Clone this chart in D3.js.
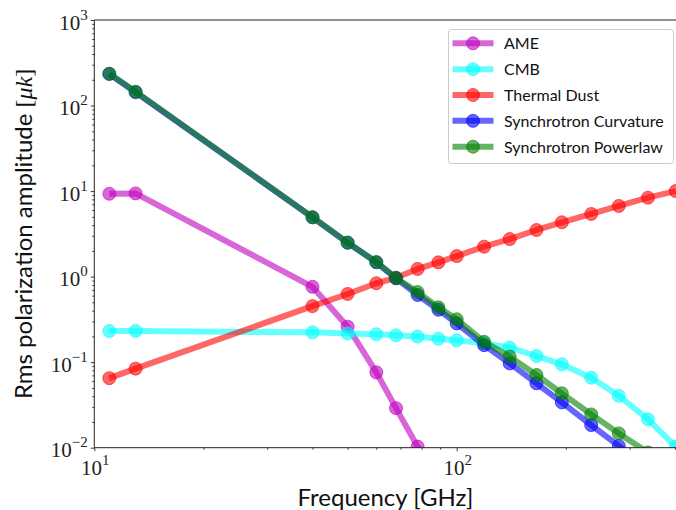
<!DOCTYPE html>
<html>
<head>
<meta charset="utf-8">
<script src="https://cdn.jsdelivr.net/npm/d3@7"></script>
<style>
  html, body { margin: 0; padding: 0; background: #fff; }
  svg { display: block; }
</style>
</head>
<body>
<svg id="chart" width="676" height="510"></svg>
<script>
// ---- data ----
const frequencies = [11, 13, 40, 50, 60, 68, 78, 89, 100, 119, 140, 166, 195, 235, 280, 337, 402];
const ame          = [9.3, 9.4, 0.76, 0.26, 0.076, 0.029, 0.0103, 0.0034, null, null, null, null, null, null, null, null, null];
const cmb          = [0.231, 0.232, 0.223, 0.217, 0.212, 0.206, 0.199, 0.188, 0.180, 0.166, 0.148, 0.118, 0.0944, 0.0658, 0.0405, 0.0215, 0.0103];
const thermalDust  = [0.065, 0.084, 0.452, 0.627, 0.836, 0.97, 1.23, 1.47, 1.74, 2.24, 2.75, 3.51, 4.32, 5.40, 6.70, 8.38, 10.0];
const syncCurv     = [234, 143, 4.93, 2.49, 1.47, 0.955, 0.61, 0.41, 0.284, 0.158, 0.0968, 0.0566, 0.0339, 0.0184, 0.0105, 0.0057, 0.0032];
const syncPower    = [236, 145, 4.95, 2.50, 1.48, 0.965, 0.66, 0.437, 0.317, 0.173, 0.116, 0.0708, 0.0432, 0.0245, 0.0147, 0.0088, 0.0052];
const seriesNames  = ["AME", "CMB", "Thermal Dust", "Synchrotron Curvature", "Synchrotron Powerlaw"];
const seriesColors = ["#bf00bf", "#00ffff", "#ff0000", "#0000ff", "#008000"];
const seriesValues = [ame, cmb, thermalDust, syncCurv, syncPower];
const xMajorTicks = [10, 100];
const yMajorTicks = [1e-2, 1e-1, 1e0, 1e1, 1e2, 1e3];
const xAxisLabel = "Frequency [GHz]";
const yAxisLabel = "Rms polarization amplitude ";

// ---- layout ----
const svg = d3.select("#chart");
const L = 94.3, T = 20, B = 447.7, R = 676.5;
const x = d3.scaleLog().domain([10, 404]).range([L, R]);
const y = d3.scaleLog().domain([1e-2, 1e3]).range([B, T]);
const ALPHA = 0.6;
const serif = "'Liberation Serif', 'DejaVu Serif', serif";
const sans = "Lato, 'Noto Sans', sans-serif";

svg.append("defs").append("clipPath").attr("id", "plotclip")
  .append("rect").attr("x", L).attr("y", T).attr("width", R - L).attr("height", B - T);

// ---- series ----
const plot = svg.append("g").attr("clip-path", "url(#plotclip)");
const line = d3.line().defined(d => d.v != null).x(d => x(d.f)).y(d => y(d.v));
seriesValues.forEach((vals, i) => {
  const pts = frequencies.map((f, j) => ({ f, v: vals[j] }));
  const g = plot.append("g");
  g.append("path").datum(pts).attr("d", line)
    .attr("fill", "none").attr("stroke", seriesColors[i]).attr("stroke-opacity", ALPHA)
    .attr("stroke-width", 6).attr("stroke-linejoin", "round");
  g.selectAll("circle").data(pts.filter(d => d.v != null)).enter().append("circle")
    .attr("cx", d => x(d.f)).attr("cy", d => y(d.v)).attr("r", 6.5)
    .attr("fill", seriesColors[i]).attr("fill-opacity", ALPHA)
    .attr("stroke", seriesColors[i]).attr("stroke-opacity", ALPHA).attr("stroke-width", 1);
});

// ---- axes ----
const axisColor = "#222";
function minorTicks(scale) {
  const [a, b] = scale.domain();
  const out = [];
  for (let e = Math.floor(Math.log10(a)); e <= Math.ceil(Math.log10(b)); e++) {
    for (let m = 2; m <= 9; m++) {
      const v = m * Math.pow(10, e);
      if (v >= a && v <= b) out.push(v);
    }
  }
  return out;
}
const xAxisMajor = d3.axisBottom(x).tickValues(xMajorTicks).tickSize(3.5).tickFormat("");
const xAxisMinor = d3.axisBottom(x).tickValues(minorTicks(x)).tickSize(2).tickFormat("");
const yAxisMajor = d3.axisLeft(y).tickValues(yMajorTicks).tickSize(3.5).tickFormat("");
const yAxisMinor = d3.axisLeft(y).tickValues(minorTicks(y)).tickSize(2).tickFormat("");
[svg.append("g").attr("transform", `translate(0,${B})`).call(xAxisMinor),
 svg.append("g").attr("transform", `translate(0,${B})`).call(xAxisMajor),
 svg.append("g").attr("transform", `translate(${L},0)`).call(yAxisMinor),
 svg.append("g").attr("transform", `translate(${L},0)`).call(yAxisMajor)].forEach(g => {
  g.select(".domain").remove();
  g.selectAll("line").attr("stroke", axisColor).attr("stroke-width", 0.9);
});
// spines
svg.append("line").attr("x1", L).attr("x2", L).attr("y1", T).attr("y2", B).attr("stroke", axisColor).attr("stroke-width", 1);
svg.append("line").attr("x1", L).attr("x2", R).attr("y1", B).attr("y2", B).attr("stroke", axisColor).attr("stroke-width", 1);
svg.append("line").attr("x1", L).attr("x2", R).attr("y1", T).attr("y2", T).attr("stroke", axisColor).attr("stroke-width", 1);

// tick labels (10^n)
function expLabel(sel, v) {
  const e = Math.round(Math.log10(v));
  sel.append("tspan").text("10");
  sel.append("tspan").attr("dy", -10).attr("font-size", 15).text(e < 0 ? "\u2212" + (-e) : String(e));
}
xMajorTicks.forEach(v => {
  const t = svg.append("text").attr("x", x(v) + 1).attr("y", B + 27.5)
    .attr("text-anchor", "middle").attr("font-family", serif).attr("font-size", 21).attr("fill", "#222");
  expLabel(t, v);
});
yMajorTicks.forEach(v => {
  const t = svg.append("text").attr("x", L - 6.5).attr("y", y(v) + 9.5)
    .attr("text-anchor", "end").attr("font-family", serif).attr("font-size", 21).attr("fill", "#222");
  expLabel(t, v);
});

// axis labels
svg.append("text").attr("x", (L + R) / 2).attr("y", 505.5).attr("text-anchor", "middle")
  .attr("font-family", sans).attr("font-size", 24).attr("fill", "#111").text(xAxisLabel);
const yl = svg.append("text").attr("transform", `translate(32,${(T + B) / 2}) rotate(-90)`)
  .attr("text-anchor", "middle").attr("font-family", sans).attr("font-size", 24).attr("fill", "#111");
yl.append("tspan").text(yAxisLabel);
yl.append("tspan").attr("font-family", serif).text("[");
yl.append("tspan").attr("font-family", serif).attr("font-style", "italic").text("\u03bck");
yl.append("tspan").attr("font-family", serif).text("]");

// ---- legend ----
const lg = svg.append("g");
lg.append("rect").attr("x", 448.5).attr("y", 29.5).attr("width", 225).attr("height", 134)
  .attr("rx", 3).attr("fill", "#fff").attr("fill-opacity", 0.8).attr("stroke", "#cccccc").attr("stroke-width", 1);
seriesNames.forEach((name, i) => {
  const cy = 43.3 + i * 25.85;
  lg.append("line").attr("x1", 452.5).attr("x2", 493.5).attr("y1", cy).attr("y2", cy)
    .attr("stroke", seriesColors[i]).attr("stroke-opacity", ALPHA).attr("stroke-width", 6);
  lg.append("circle").attr("cx", 473).attr("cy", cy).attr("r", 6.5)
    .attr("fill", seriesColors[i]).attr("fill-opacity", ALPHA)
    .attr("stroke", seriesColors[i]).attr("stroke-opacity", ALPHA).attr("stroke-width", 1);
  lg.append("text").attr("x", 504).attr("y", cy + 6).attr("font-family", sans).attr("font-size", 16)
    .attr("fill", "#111").text(name);
});
</script>
</body>
</html>
